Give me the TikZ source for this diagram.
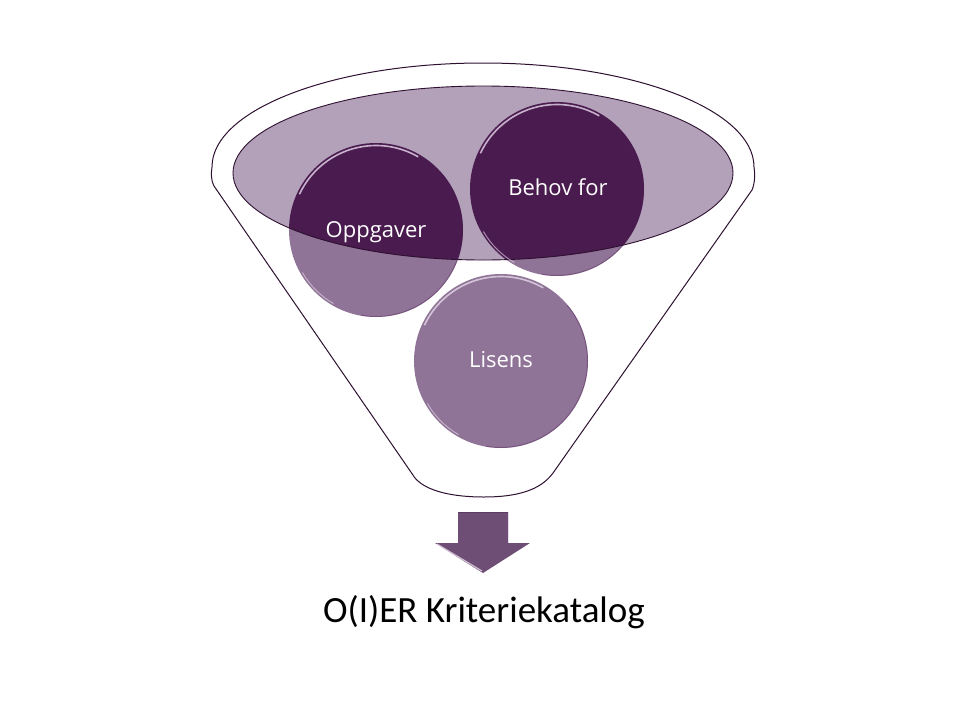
\documentclass[tikz,border=0pt]{standalone}
\usepackage{fontspec}
\setmainfont{Carlito}
\newfontfamily\labelfont{Open Sans}
\definecolor{darkp}{HTML}{4A1B4F}
\definecolor{midp}{HTML}{8F7497}
\definecolor{lightp}{HTML}{B3A0B9}
\definecolor{linep}{HTML}{2E1030}
\definecolor{arrowp}{HTML}{6E4E74}
\definecolor{rimp}{HTML}{E6D8EA}
\tikzset{
  funnelline/.style={draw=linep, line width=1pt},
  ball/.style={fill=midp},
  rimlight/.style={draw=rimp, line width=1.6pt, opacity=0.8},
  rimdark/.style={draw=darkp, line width=1pt, opacity=0.35},
  ballfont/.style={text=white, font=\labelfont\fontsize{22}{26}\selectfont, anchor=base},
  titlefont/.style={text=black, font=\fontsize{37}{42}\selectfont, anchor=base}
}
\begin{document}
\begin{tikzpicture}[x=1pt,y=-1pt]
\useasboundingbox[fill=white] (0,0) rectangle (965,720);
% funnel outline
\draw[funnelline] (415,478) -- (214,186) .. controls (211,181) and (211,173) .. (212,167)
  arc[start angle=180,end angle=0,x radius=271pt,y radius=104pt]
  .. controls (755,174) and (755,183) .. (752,190) -- (553,473)
  .. controls (540,491) and (515,497) .. (484,497)
  .. controls (452,497) and (426,491) .. (415,478);
% balls (medium)
\coordinate (cO) at (376,230);
\coordinate (cB) at (557,189);
\coordinate (cL) at (501,361);
\fill[ball] (cO) circle[radius=87pt];
\fill[ball] (cB) circle[radius=87pt];
\fill[ball] (cL) circle[radius=87pt];
% ellipse (light)
\fill[lightp] (483,173) ellipse[x radius=250pt, y radius=87pt];
% dark parts inside ellipse
\begin{scope}
  \clip (483,173) ellipse[x radius=250pt, y radius=87pt];
  \fill[darkp] (cO) circle[radius=87pt];
  \fill[darkp] (cB) circle[radius=87pt];
\end{scope}
\draw[linep, line width=0.9pt] (483,173) ellipse[x radius=250pt, y radius=87pt];
% rim highlights
\foreach \c in {cO,cB,cL}{
  \draw[rimlight] (\c) ++(155:84.5pt) arc[start angle=155,end angle=60,radius=84.5pt];
  \draw[rimlight, line width=1pt, opacity=0.6] (\c) ++(-120:85pt) arc[start angle=-120,end angle=-150,radius=85pt];
  \draw[rimdark] (\c) ++(40:86.5pt) arc[start angle=40,end angle=-100,radius=86.5pt];
}
% labels
\node[ballfont] (tO) at (376,237) {Oppgaver};
\node[ballfont] (tB) at (558,195) {Behov for};
\node[ballfont] (tL) at (501,367) {Lisens};
% arrow
\fill[arrowp] (458,512) -- (508,512) -- (508,543) -- (530,543) -- (483,573) -- (435,543) -- (458,543) -- cycle;
\draw[rimp, line width=1pt, opacity=0.7] (508,513) -- (508,543);
\draw[rimp, line width=1.2pt, opacity=0.8] (437,544) -- (482,571);
\draw[darkp, line width=0.8pt, opacity=0.4] (458,512) -- (508,512);
% title
\node[titlefont] (title) at (484,622) {O(I)ER Kriteriekatalog};
\end{tikzpicture}
\end{document}
